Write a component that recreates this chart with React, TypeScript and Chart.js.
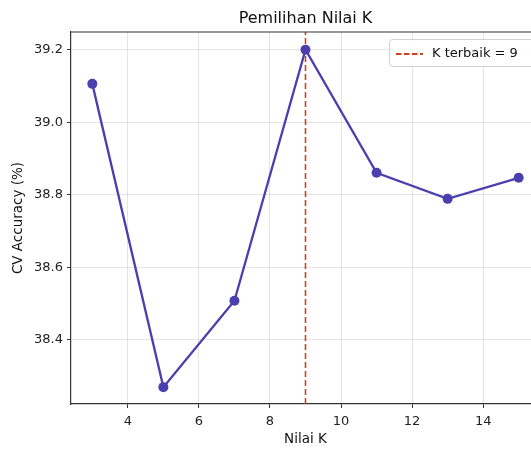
import React, { useEffect, useRef } from "react";
import { Chart, registerables } from "chart.js";

Chart.register(...registerables);

const kValues = [3, 5, 7, 9, 11, 13, 15];
const cvAccuracy = [39.106, 38.27, 38.508, 39.2, 38.861, 38.789, 38.847];
const bestK = 9;
const xTicks = [4, 6, 8, 10, 12, 14];
const yTicks = [38.4, 38.6, 38.8, 39.0, 39.2];
const titleText = "Pemilihan Nilai K";
const xTitle = "Nilai K";
const yTitle = "CV Accuracy (%)";
const legendLabel = "K terbaik = 9";

const X_MIN = 2.4;
const X_MAX = 15.6;
const Y_MIN = 38.2235;
const Y_MAX = 39.249;

const FONT = "'DejaVu Sans', sans-serif";
const LINE_COLOR = "#4B3FAF";
const VLINE_COLOR = "#D0421B";

const framePlugin = {
  id: "frameAndExtras",
  afterDraw(chart: any) {
    const { ctx, chartArea } = chart;
    const { left, right, top, bottom } = chartArea;
    ctx.save();
    // top & right spines
    ctx.strokeStyle = "#333333";
    ctx.lineWidth = 1.2;
    ctx.beginPath();
    ctx.moveTo(left, top);
    ctx.lineTo(right, top);
    ctx.moveTo(right, top);
    ctx.lineTo(right, bottom);
    ctx.stroke();

    // title
    ctx.fillStyle = "#111111";
    ctx.font = `16px ${FONT}`;
    ctx.textAlign = "center";
    ctx.textBaseline = "alphabetic";
    ctx.fillText(titleText, (left + right) / 2, 23);

    // legend
    const bx = 389.5;
    const by = 39.5;
    const bw = 146;
    const bh = 27;
    ctx.fillStyle = "rgba(255,255,255,0.85)";
    ctx.strokeStyle = "#d0d0d0";
    ctx.lineWidth = 1;
    ctx.beginPath();
    const r = 3;
    ctx.moveTo(bx + r, by);
    ctx.lineTo(bx + bw - r, by);
    ctx.arcTo(bx + bw, by, bx + bw, by + r, r);
    ctx.lineTo(bx + bw, by + bh - r);
    ctx.arcTo(bx + bw, by + bh, bx + bw - r, by + bh, r);
    ctx.lineTo(bx + r, by + bh);
    ctx.arcTo(bx, by + bh, bx, by + bh - r, r);
    ctx.lineTo(bx, by + r);
    ctx.arcTo(bx, by, bx + r, by, r);
    ctx.closePath();
    ctx.fill();
    ctx.stroke();

    ctx.strokeStyle = VLINE_COLOR;
    ctx.lineWidth = 1.8;
    ctx.setLineDash([5.5, 2.5]);
    ctx.beginPath();
    ctx.moveTo(396, 54);
    ctx.lineTo(423, 54);
    ctx.stroke();
    ctx.setLineDash([]);

    ctx.fillStyle = "#111111";
    ctx.font = `13px ${FONT}`;
    ctx.textAlign = "left";
    ctx.textBaseline = "middle";
    ctx.fillText(legendLabel, 432, 53.5);
    ctx.restore();
  },
};

export default function App() {
  const canvasRef = useRef<HTMLCanvasElement | null>(null);

  useEffect(() => {
    const canvas = canvasRef.current;
    if (!canvas) return;
    const mainData = kValues.map((k, i) => ({ x: k, y: cvAccuracy[i] }));
    const vData = [
      { x: bestK, y: Y_MIN },
      { x: bestK, y: Y_MAX },
    ];
    const chart = new Chart(canvas, {
      type: "scatter",
      data: {
        datasets: [
          {
            label: legendLabel,
            data: vData,
            showLine: true,
            borderColor: VLINE_COLOR,
            borderWidth: 1.6,
            borderDash: [6, 3],
            pointRadius: 0,
            order: 2,
          },
          {
            label: "CV Accuracy",
            data: mainData,
            showLine: true,
            borderColor: LINE_COLOR,
            backgroundColor: LINE_COLOR,
            borderWidth: 2.3,
            pointRadius: 5,
            pointBackgroundColor: LINE_COLOR,
            pointBorderColor: LINE_COLOR,
            pointBorderWidth: 0,
            order: 1,
          },
        ],
      },
      options: {
        responsive: false,
        animation: false,
        layout: { padding: { top: 32, right: 20, left: 0, bottom: 0 } },
        plugins: {
          legend: { display: false },
          title: { display: false },
          tooltip: { enabled: false },
        },
        scales: {
          x: {
            type: "linear",
            min: X_MIN,
            max: X_MAX,
            afterBuildTicks: (axis: any) => {
              axis.ticks = xTicks.map((v) => ({ value: v }));
            },
            afterFit: (axis: any) => {
              axis.height = 48;
            },
            ticks: {
              color: "#222222",
              font: { family: FONT, size: 13 },
              padding: 6,
              maxRotation: 0,
              callback: (v: any) => String(v),
            },
            grid: {
              color: "rgba(0,0,0,0.10)",
              lineWidth: 1,
              tickColor: "#333333",
              tickLength: 4,
              drawTicks: true,
            },
            border: { color: "#333333", width: 1.2 },
            title: {
              display: true,
              text: xTitle,
              color: "#111111",
              font: { family: FONT, size: 13.5 },
              padding: { top: 2, bottom: 4 },
            },
          },
          y: {
            type: "linear",
            min: Y_MIN,
            max: Y_MAX,
            afterBuildTicks: (axis: any) => {
              axis.ticks = yTicks.map((v) => ({ value: v }));
            },
            afterFit: (axis: any) => {
              axis.width = 71;
            },
            ticks: {
              color: "#222222",
              font: { family: FONT, size: 13 },
              padding: 4,
              callback: (v: any) => Number(v).toFixed(1),
            },
            grid: {
              color: "rgba(0,0,0,0.10)",
              lineWidth: 1,
              tickColor: "#333333",
              tickLength: 4,
              drawTicks: true,
            },
            border: { color: "#333333", width: 1.2 },
            title: {
              display: true,
              text: yTitle,
              color: "#111111",
              font: { family: FONT, size: 13.5 },
              padding: { top: 10, bottom: 0 },
            },
          },
        },
      },
      plugins: [framePlugin],
    });
    return () => chart.destroy();
  }, []);

  return (
    <div
      style={{
        position: "fixed",
        left: 0,
        top: 0,
        width: 531,
        height: 452,
        overflow: "hidden",
        background: "#ffffff",
      }}
    >
      <canvas ref={canvasRef} width={560} height={452} style={{ display: "block" }} />
    </div>
  );
}
